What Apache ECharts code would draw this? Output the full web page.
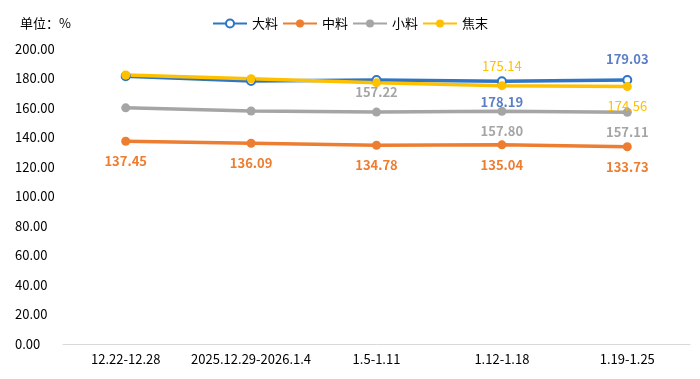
<!DOCTYPE html>
<html><head><meta charset="utf-8">
<script src="https://cdn.jsdelivr.net/npm/echarts@6/dist/echarts.min.js"></script>
<style>html,body{margin:0;padding:0;background:#fff}#c{width:700px;height:379px}</style>
</head><body><div id="c"></div>
<script>
var categories = ['12.22-12.28','2025.12.29-2026.1.4','1.5-1.11','1.12-1.18','1.19-1.25'];
var daliao = [181.6, 178.3, 178.9, 178.19, 179.03];
var zhongliao = [137.45, 136.09, 134.78, 135.04, 133.73];
var xiaoliao = [160.1, 158.0, 157.22, 157.80, 157.11];
var jiaomo = [182.4, 179.8, 177.2, 175.14, 174.56];
var yTicks = [0,20,40,60,80,100,120,140,160,180,200];

var font = '"Noto Sans CJK SC", "Microsoft YaHei", sans-serif';
function lbl(show, pos, color, bold){
  return {show: show, position: pos, color: color, fontSize: 13, fontWeight: bold ? 'bold' : 'normal',
    fontFamily: font, distance: 9, formatter: function(p){return p.value.toFixed(2);}};
}
function mk(arr, cfg){
  return arr.map(function(v,i){
    var c = cfg[i];
    return {value: v, label: c ? lbl(true, c[0], c[1], c[2]) : {show:false}};
  });
}
var chart = echarts.init(document.getElementById('c'));
chart.setOption({
  animation: false,
  textStyle: {fontFamily: font},
  title: {text: '单位：%', left: 15, top: 12, textStyle: {fontSize: 13, fontWeight: 'normal', color: '#000', fontFamily: font}},
  legend: {top: 12, left: 'center', itemWidth: 34, itemHeight: 10, itemGap: 4,
    textStyle: {fontSize: 13, color: '#000', fontFamily: font}},
  grid: {left: 63, right: 10, top: 49, bottom: 35},
  xAxis: {type: 'category', data: categories, boundaryGap: true,
    axisLine: {lineStyle: {color: '#d9d9d9'}}, axisTick: {show: false},
    axisLabel: {color: '#000', fontSize: 13, margin: 9, interval: 0, fontFamily: font}},
  yAxis: {type: 'value', min: 0, max: 200, interval: 20,
    splitLine: {show: false}, axisLine: {show: false}, axisTick: {show: false},
    axisLabel: {color: '#000', fontSize: 13, align: 'left', margin: 48, fontFamily: font,
      formatter: function(v){return v.toFixed(2);}}},
  series: [
    {name: '大料', type: 'line', data: mk(daliao, {3:['bottom','#5B7FC7',true],4:['top','#5B7FC7',true]}),
     symbol: 'emptyCircle', symbolSize: 8, color: '#2E75C6', lineStyle: {width: 3.5},
     itemStyle: {color: '#2E75C6', borderWidth: 1.5}},
    {name: '中料', type: 'line', data: mk(zhongliao, {0:['bottom','#ED7D31',true],1:['bottom','#ED7D31',true],2:['bottom','#ED7D31',true],3:['bottom','#ED7D31',true],4:['bottom','#ED7D31',true]}),
     symbol: 'circle', symbolSize: 9, color: '#ED7D31', lineStyle: {width: 3.5}},
    {name: '小料', type: 'line', data: mk(xiaoliao, {2:['top','#A5A5A5',true],3:['bottom','#A5A5A5',true],4:['bottom','#A5A5A5',true]}),
     symbol: 'circle', symbolSize: 9, color: '#A5A5A5', lineStyle: {width: 3.5}},
    {name: '焦末', type: 'line', data: mk(jiaomo, {3:['top','#FFC000',false],4:['bottom','#FFC000',false]}),
     symbol: 'circle', symbolSize: 9, color: '#FFC000', lineStyle: {width: 3.5}}
  ]
});
</script></body></html>
